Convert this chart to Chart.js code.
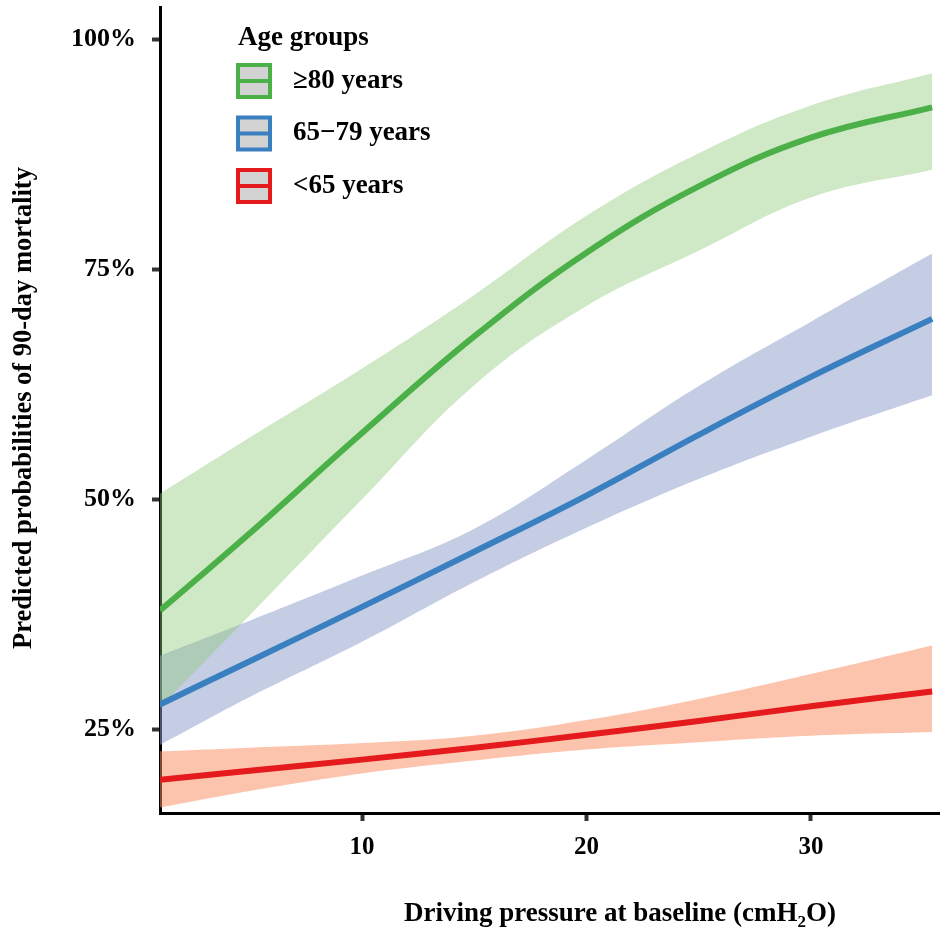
<!DOCTYPE html>
<html>
<head>
<meta charset="utf-8">
<script src="https://cdn.jsdelivr.net/npm/chart.js@4.4.1/dist/chart.umd.min.js"></script>
<style>
  html, body { margin: 0; padding: 0; background: #fff; }
  #wrap { width: 940px; height: 941px; }
</style>
</head>
<body>
<div id="wrap"><canvas id="c" width="940" height="941"></canvas></div>
<script>
// ---- data ----
const xValues    = [1, 5, 10, 15, 20, 25, 30, 35.4];
const green      = [37.9, 46.3, 57.2, 67.7, 76.8, 84.0, 89.3, 92.6];
const greenUpper = [50.6, 56.7, 64.2, 72.2, 80.8, 87.6, 92.8, 96.3];
const greenLower = [27.4, 37.4, 50.0, 62.4, 71.0, 77.0, 82.8, 85.8];
const blue       = [27.7, 32.4, 38.3, 44.3, 50.4, 57.0, 63.3, 69.6];
const blueUpper  = [33.0, 36.8, 41.7, 46.8, 54.3, 62.3, 69.3, 76.7];
const blueLower  = [23.3, 28.5, 34.5, 41.0, 46.9, 52.2, 56.8, 61.3];
const red        = [19.5, 20.5, 21.7, 23.0, 24.4, 25.9, 27.5, 29.1];
const redUpper   = [22.6, 23.0, 23.5, 24.3, 26.0, 28.3, 31.0, 34.1];
const redLower   = [16.5, 18.3, 20.2, 21.6, 22.8, 23.6, 24.3, 24.7];
const groupLabels = ['\u226580 years', '65\u221279 years', '<65 years'];
const legendTitle = 'Age groups';
const xTicks = [10, 20, 30];
const yTicks = [25, 50, 75, 100];
const xTitle = ['Driving pressure at baseline (cmH', '2', 'O)'];
const yTitle = 'Predicted probabilities of 90-day mortality';

// ---- styles ----
const FONT = '"Liberation Serif", "Times New Roman", serif';
const lineColors = ['#4bb047', '#3a80c0', '#e41a1c'];
const bandColors = ['rgba(140,200,120,0.42)', 'rgba(141,160,203,0.52)', 'rgba(252,141,98,0.52)'];

const pts = arr => xValues.map((x, i) => ({ x: x, y: arr[i] }));
const lines = [green, blue, red];
const uppers = [greenUpper, blueUpper, redUpper];
const lowers = [greenLower, blueLower, redLower];

const datasets = [];
for (let g = 0; g < 3; g++) {
  datasets.push({
    label: groupLabels[g], data: pts(lines[g]), borderColor: lineColors[g],
    borderWidth: 6, pointRadius: 0, fill: false, tension: 0.4, order: 0
  });
}
for (let g = 0; g < 3; g++) {
  const lowIdx = datasets.length;
  datasets.push({
    label: groupLabels[g] + ' lower', data: pts(lowers[g]), borderWidth: 0, borderColor: 'rgba(0,0,0,0)',
    pointRadius: 0, fill: false, tension: 0.4, order: 1
  });
  datasets.push({
    label: groupLabels[g] + ' upper', data: pts(uppers[g]), borderWidth: 0, borderColor: 'rgba(0,0,0,0)',
    pointRadius: 0, fill: { target: lowIdx }, backgroundColor: bandColors[g], tension: 0.4, order: 1
  });
}

const decorations = {
  id: 'decorations',
  afterDraw(chart) {
    const ctx = chart.ctx;
    ctx.save();
    ctx.fillStyle = '#000';
    // y title
    ctx.font = 'bold 26.5px ' + FONT;
    ctx.textAlign = 'center';
    ctx.textBaseline = 'middle';
    ctx.save();
    ctx.translate(24, 408);
    ctx.rotate(-Math.PI / 2);
    ctx.fillText(yTitle, 0, 0);
    ctx.restore();
    // x title with subscript
    ctx.textAlign = 'left';
    ctx.textBaseline = 'alphabetic';
    const f1 = 'bold 27px ' + FONT, f2 = 'bold 17px ' + FONT;
    ctx.font = f1; const w1 = ctx.measureText(xTitle[0]).width; const w3 = ctx.measureText(xTitle[2]).width;
    ctx.font = f2; const w2 = ctx.measureText(xTitle[1]).width;
    const x0 = 620 - (w1 + w2 + w3) / 2; const base = 921;
    ctx.font = f1; ctx.fillText(xTitle[0], x0, base);
    ctx.font = f2; ctx.fillText(xTitle[1], x0 + w1, base + 6);
    ctx.font = f1; ctx.fillText(xTitle[2], x0 + w1 + w2, base);
    // legend
    ctx.textBaseline = 'middle';
    ctx.font = 'bold 27px ' + FONT;
    ctx.fillText(legendTitle, 238, 38);
    for (let g = 0; g < 3; g++) {
      const by = 63 + g * 52.5, bx = 236, s = 36;
      ctx.fillStyle = lineColors[g];
      ctx.fillRect(bx, by, s, s);
      ctx.fillStyle = '#d2d2d2';
      ctx.fillRect(bx + 4, by + 4, s - 8, (s - 8) / 2 - 2);
      ctx.fillRect(bx + 4, by + s / 2 + 2, s - 8, (s - 8) / 2 - 2);
      ctx.fillStyle = '#000';
      ctx.fillText(groupLabels[g], 293, by + s / 2);
    }
    ctx.restore();
  }
};

new Chart(document.getElementById('c'), {
  type: 'line',
  data: { datasets: datasets },
  options: {
    responsive: false,
    animation: false,
    events: [],
    layout: { padding: { top: 7, right: 0, left: 0, bottom: 0 } },
    plugins: {
      legend: { display: false },
      tooltip: { enabled: false },
      filler: { drawTime: 'beforeDatasetsDraw' }
    },
    scales: {
      x: {
        type: 'linear', min: 1, max: 35.75, z: 1,
        afterBuildTicks: s => { s.ticks = xTicks.map(v => ({ value: v })); },
        afterFit: s => { s.height = 128; s.paddingLeft = 0; s.paddingRight = 0; },
        ticks: { color: '#000', padding: 12, font: { family: FONT, size: 25, weight: 'bold' }, maxRotation: 0 },
        grid: { display: true, drawOnChartArea: false, drawTicks: true, tickLength: 8, tickColor: '#333', tickWidth: 4 },
        border: { display: true, color: '#000', width: 3 }
      },
      y: {
        type: 'linear', min: 15.9, max: 103.5, z: 1,
        afterBuildTicks: s => { s.ticks = yTicks.map(v => ({ value: v })); },
        afterFit: s => { s.width = 160; s.paddingTop = 0; s.paddingBottom = 0; },
        ticks: { color: '#000', padding: 16, font: { family: FONT, size: 26, weight: 'bold' }, callback: v => v + '%' },
        grid: { display: true, drawOnChartArea: false, drawTicks: true, tickLength: 8, tickColor: '#333', tickWidth: 4 },
        border: { display: true, color: '#000', width: 3 }
      }
    }
  },
  plugins: [decorations]
});
</script>
</body>
</html>
